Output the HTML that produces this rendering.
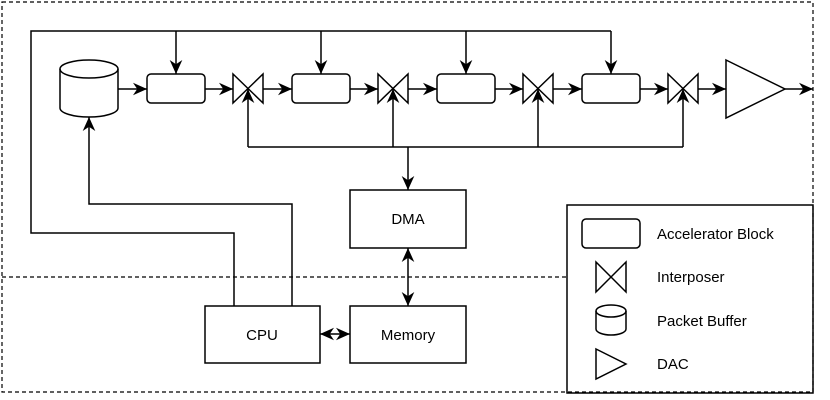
<!DOCTYPE html>
<html><head><meta charset="utf-8"><style>html,body{margin:0;padding:0;background:#fff}svg{display:block}</style></head><body>
<svg width="830" height="400" viewBox="0 0 830 400" xmlns="http://www.w3.org/2000/svg" font-family="Liberation Sans, sans-serif">
<defs>
<marker id="b" viewBox="0 0 10 10" refX="10" refY="5" markerWidth="14" markerHeight="14" markerUnits="userSpaceOnUse" orient="auto-start-reverse"><path d="M0,0.5 L10,5 L0,9.5 L3,5 z" fill="#000"/></marker></defs>
<g fill="none" stroke="#000" stroke-width="1.2" stroke-dasharray="4,3">
<rect x="2" y="2" width="811" height="390"/>
<line x1="2" y1="277" x2="567" y2="277"/>
</g>
<g fill="none" stroke="#000" stroke-width="1.5">
<polyline points="234,306 234,233 31,233 31,31 611,31"/>
<line x1="176" y1="31" x2="176" y2="74" marker-end="url(#b)"/>
<line x1="321" y1="31" x2="321" y2="74" marker-end="url(#b)"/>
<line x1="466" y1="31" x2="466" y2="74" marker-end="url(#b)"/>
<line x1="611" y1="31" x2="611" y2="74" marker-end="url(#b)"/>
<polyline points="292,306 292,204 89,204 89,117" marker-end="url(#b)"/>
<path d="M60,69 A29,9 0 0 1 118,69 L118,108 A29,9 0 0 1 60,108 Z" fill="#fff"/>
<path d="M60,69 A29,9 0 0 0 118,69"/>
<rect x="147" y="74" width="58" height="29" rx="4"/>
<rect x="292" y="74" width="58" height="29" rx="4"/>
<rect x="437" y="74" width="58" height="29" rx="4"/>
<rect x="582" y="74" width="58" height="29" rx="4"/>
<path d="M233,74 L263,103 L263,74 L233,103 Z"/>
<path d="M378,74 L408,103 L408,74 L378,103 Z"/>
<path d="M523,74 L553,103 L553,74 L523,103 Z"/>
<path d="M668,74 L698,103 L698,74 L668,103 Z"/>
<path d="M726,60 L785,89 L726,118 Z"/>
<line x1="118" y1="89" x2="147" y2="89" marker-end="url(#b)"/>
<line x1="205" y1="89" x2="233" y2="89" marker-end="url(#b)"/>
<line x1="263" y1="89" x2="292" y2="89" marker-end="url(#b)"/>
<line x1="350" y1="89" x2="378" y2="89" marker-end="url(#b)"/>
<line x1="408" y1="89" x2="437" y2="89" marker-end="url(#b)"/>
<line x1="495" y1="89" x2="523" y2="89" marker-end="url(#b)"/>
<line x1="553" y1="89" x2="582" y2="89" marker-end="url(#b)"/>
<line x1="640" y1="89" x2="668" y2="89" marker-end="url(#b)"/>
<line x1="698" y1="89" x2="726" y2="89" marker-end="url(#b)"/>
<line x1="785" y1="89" x2="813" y2="89" marker-end="url(#b)"/>
<line x1="248" y1="147" x2="683" y2="147"/>
<line x1="248" y1="147" x2="248" y2="89" marker-end="url(#b)"/>
<line x1="393" y1="147" x2="393" y2="89" marker-end="url(#b)"/>
<line x1="538" y1="147" x2="538" y2="89" marker-end="url(#b)"/>
<line x1="683" y1="147" x2="683" y2="89" marker-end="url(#b)"/>
<line x1="408" y1="147" x2="408" y2="190" marker-end="url(#b)"/>
<rect x="350" y="190" width="116" height="58"/>
<rect x="350" y="306" width="116" height="57"/>
<rect x="205" y="306" width="115" height="57"/>
<line x1="408" y1="248" x2="408" y2="306" marker-start="url(#b)" marker-end="url(#b)"/>
<line x1="320" y1="334" x2="350" y2="334" marker-start="url(#b)" marker-end="url(#b)"/>
<rect x="567" y="205" width="246" height="188"/>
<rect x="582" y="219" width="58" height="29" rx="4"/>
<path d="M596,262 L626,292 L626,262 L596,292 Z"/>
<path d="M596,311 A15,6 0 0 1 626,311 L626,329 A15,6 0 0 1 596,329 Z"/>
<path d="M596,311 A15,6 0 0 0 626,311"/>
<path d="M596,349 L626,364 L596,379 Z"/>
</g>
<g font-size="15" fill="#000">
<text x="408" y="224" text-anchor="middle">DMA</text>
<text x="408" y="340" text-anchor="middle">Memory</text>
<text x="262" y="340" text-anchor="middle">CPU</text>
<text x="657" y="239">Accelerator Block</text>
<text x="657" y="282">Interposer</text>
<text x="657" y="326">Packet Buffer</text>
<text x="657" y="369">DAC</text>
</g>
</svg>
</body></html>
